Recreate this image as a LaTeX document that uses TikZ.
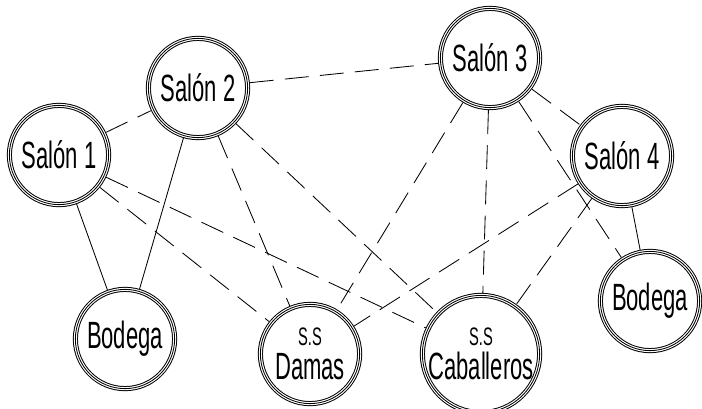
\documentclass[tikz,border=0pt]{standalone}
\usepackage{fontspec}
\setmainfont{Liberation Sans}[FakeStretch=0.58]
\usepackage{tikz}
\usetikzlibrary{positioning}

\tikzset{
  room/.style={circle, minimum size=2.48cm, inner sep=0pt, draw, line width=3.6pt,
    postaction={draw=white, line width=2.2pt},
    postaction={draw=black, line width=0.6pt},
    align=center, font=\fontsize{27}{28}\selectfont},
  link/.style={line width=0.6pt},
  dlink/.style={line width=0.6pt, dash pattern=on 17pt off 8pt}
}
\newcommand{\smalltag}[1]{{\fontsize{18}{18}\selectfont #1}}

\begin{document}
\begin{tikzpicture}[x=0.025cm, y=-0.025cm]
    \useasboundingbox (0,0) rectangle (702,408);

    % Rooms
    \node[room] (s1) at (59,155) {Salón 1};
    \node[room] (s2) at (198,88) {Salón 2};
    \node[room] (s3) at (490,58) {Salón 3};
    \node[room] (s4) at (622,156) {Salón 4};

    % Bottom row
    \node[room] (bl) at (125,339) {Bodega};
    \node[room] (dam) at (310,354) {\smalltag{S.S}\\[-4pt]Damas};
    \node[room] (cab) at (481,354) {\smalltag{S.S}\\[-4pt]Caballeros};
    \node[room] (br) at (650,301) {Bodega};

    % Solid links
    \draw[link] (s1) -- (bl);
    \draw[link] (s2) -- (bl);
    \draw[link] (s4) -- (br);

    % Dashed links
    \draw[dlink] (s1) -- (s2);
    \draw[dlink] (s2) -- (s3);
    \draw[dlink] (s3) -- (s4);
    \draw[dlink] (s1) -- (dam);
    \draw[dlink] (s1) -- (cab);
    \draw[dlink] (s2) -- (dam);
    \draw[dlink] (s2) -- (cab);
    \draw[dlink] (s3) -- (dam);
    \draw[dlink] (s3) -- (cab);
    \draw[dlink] (s3) -- (br);
    \draw[dlink] (s4) -- (dam);
    \draw[dlink] (s4) -- (cab);
\end{tikzpicture}
\end{document}
